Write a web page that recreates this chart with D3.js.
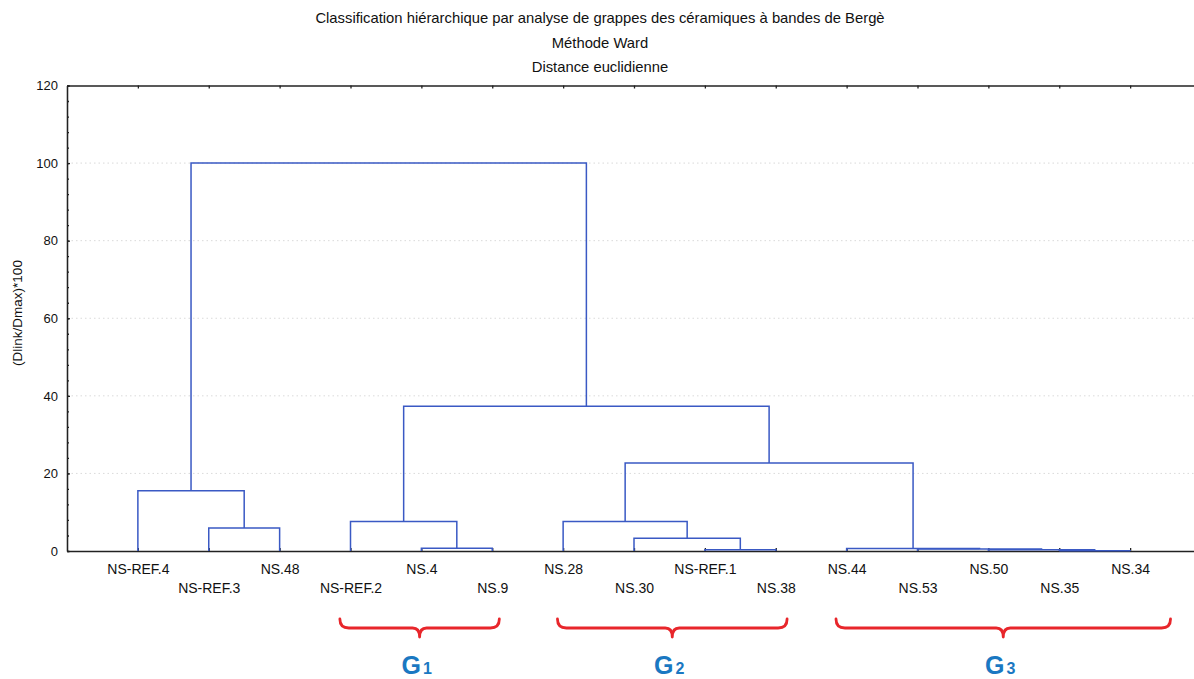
<!DOCTYPE html>
<html>
<head>
<meta charset="UTF-8">
<title>Dendrogramme</title>
<style>
  body { margin: 0; background: #fff; }
  text { font-family: "Liberation Sans", Arial, sans-serif; fill: #111; }
  .axis path, .axis line { stroke: #222; stroke-width: 1.3px; }
  .axis text { font-size: 13px; fill: #111; }
  .grid line { stroke: #dadada; stroke-dasharray: 1.5,3; }
  .link { fill: none; stroke: #3a59c4; stroke-width: 1.5px; }
  .brace { fill: none; stroke: #e8262b; stroke-width: 2.8px; stroke-linecap: round; stroke-linejoin: round; }
  .glabel { font-weight: bold; fill: #1a78c2; }
</style>
<script src="https://cdn.jsdelivr.net/npm/d3@7"></script>
</head>
<body>
<div id="chart"></div>
<script>
const titles = ["Classification hiérarchique par analyse de grappes des céramiques à bandes de Bergè",
                "Méthode Ward", "Distance euclidienne"];
const yLabel = "(Dlink/Dmax)*100";

// ordre des feuilles
const leaves = ["NS-REF.4", "NS-REF.3", "NS.48", "NS-REF.2", "NS.4", "NS.9", "NS.28", "NS.30",
                "NS-REF.1", "NS.38", "NS.44", "NS.53", "NS.50", "NS.35", "NS.34"];

// fusions : [nom, enfant A, enfant B, hauteur]
const merges = [
  ["C1", "NS-REF.3", "NS.48", 5.9],
  ["C2", "NS-REF.4", "C1", 15.5],
  ["C3", "NS.4", "NS.9", 0.7],
  ["C4", "NS-REF.2", "C3", 7.6],
  ["C5", "NS-REF.1", "NS.38", 0.35],
  ["C6", "NS.30", "C5", 3.3],
  ["C7", "NS.28", "C6", 7.6],
  ["C8", "NS.35", "NS.34", 0.05],
  ["C9", "NS.50", "C8", 0.3],
  ["C10", "NS.53", "C9", 0.5],
  ["C11", "NS.44", "C10", 0.65],
  ["C12", "C7", "C11", 22.7],
  ["C13", "C4", "C12", 37.3],
  ["C14", "C2", "C13", 100]
];

const yTicks = [0, 20, 40, 60, 80, 100, 120];

// groupes annotés (étendue en unités de feuilles)
const groups = [
  { sub: "1", lo: 2.85, hi: 5.1 },
  { sub: "2", lo: 5.92, hi: 9.16 },
  { sub: "3", lo: 9.85, hi: 14.57 }
];

const W = 1194, H = 679;
const svg = d3.select("#chart").append("svg")
  .attr("width", W).attr("height", H)
  .style("display", "block");

const x = d3.scalePoint().domain(leaves).range([67, 1201]).padding(1);
const y = d3.scaleLinear().domain([0, 120]).range([551, 85.5]);
const xi = d3.scaleLinear().domain([0, leaves.length - 1])
  .range([x(leaves[0]), x(leaves[leaves.length - 1])]);

// titre
svg.selectAll(".title").data(titles).enter().append("text")
  .attr("class", "title")
  .attr("x", 600).attr("y", (d, i) => 23 + i * 24.5)
  .attr("text-anchor", "middle")
  .style("font-size", "14.8px")
  .text(d => d);

// grille
svg.append("g").attr("class", "grid")
  .selectAll("line").data(yTicks.filter(d => d > 0 && d < 120)).enter().append("line")
  .attr("x1", 67).attr("x2", W)
  .attr("y1", d => y(d)).attr("y2", d => y(d));

// axes
svg.append("g").attr("class", "axis")
  .attr("transform", "translate(67,0)")
  .call(d3.axisLeft(y).tickValues(d3.range(0, 121, 4)).tickSizeInner(-2).tickSizeOuter(0).tickFormat(""));
svg.append("g").attr("class", "axis")
  .attr("transform", "translate(67,0)")
  .call(d3.axisLeft(y).tickValues(yTicks).tickSizeInner(-3).tickSizeOuter(0).tickPadding(9));

svg.append("g").attr("class", "axis")
  .attr("transform", "translate(0," + y(120) + ")")
  .call(d3.axisTop(x).tickSizeInner(-3).tickSizeOuter(0).tickFormat(""));

const xAxis = svg.append("g").attr("class", "axis")
  .attr("transform", "translate(0," + y(0) + ")")
  .call(d3.axisBottom(x).tickSizeInner(-3).tickSizeOuter(0));
xAxis.selectAll("text").attr("y", (d, i) => i % 2 ? 32 : 13).style("font-size", "14px");

svg.append("text")
  .attr("transform", "translate(22,313) rotate(-90)")
  .attr("text-anchor", "middle")
  .style("font-size", "13.5px")
  .text(yLabel);

// dendrogramme
const nodes = {};
leaves.forEach(l => nodes[l] = { x: x(l), h: 0 });
merges.forEach(m => {
  const a = nodes[m[1]], b = nodes[m[2]];
  nodes[m[0]] = { x: (a.x + b.x) / 2, h: m[3] };
});

svg.append("g").selectAll("path").data(merges).enter().append("path")
  .attr("class", "link")
  .attr("d", m => {
    const a = nodes[m[1]], b = nodes[m[2]];
    return "M" + a.x + "," + y(a.h) + "V" + y(m[3]) + "H" + b.x + "V" + y(b.h);
  });

// accolades
const g = svg.append("g");
g.selectAll("path").data(groups).enter().append("path")
  .attr("class", "brace")
  .attr("d", d => {
    const x0 = xi(d.lo), x1 = xi(d.hi), c = (x0 + x1) / 2;
    return "M" + x0 + ",619 Q" + x0 + ",628 " + (x0 + 9) + ",628 H" + (c - 7) +
      " Q" + c + ",628 " + c + ",637 Q" + c + ",628 " + (c + 7) + ",628 H" + (x1 - 9) +
      " Q" + x1 + ",628 " + x1 + ",619";
  });

const gl = g.selectAll(".glabel").data(groups).enter().append("text")
  .attr("class", "glabel")
  .attr("x", d => (xi(d.lo) + xi(d.hi)) / 2 - 3)
  .attr("y", 674)
  .attr("text-anchor", "middle");
gl.append("tspan").style("font-size", "25px").text("G");
gl.append("tspan").attr("dx", 2).style("font-size", "16px").text(d => d.sub);
</script>
</body>
</html>
